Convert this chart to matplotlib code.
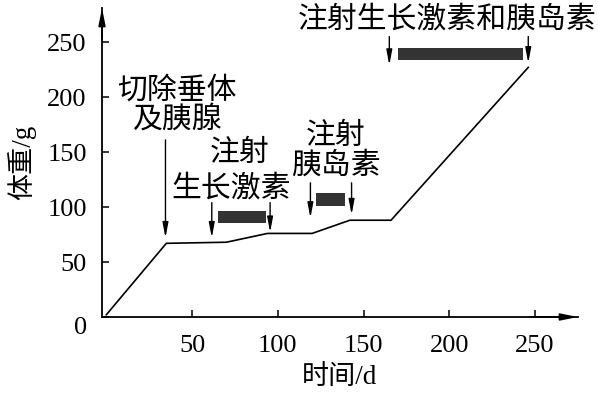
import matplotlib
matplotlib.use("Agg")
import matplotlib.pyplot as plt
from matplotlib.transforms import ScaledTranslation

# ---- data ----
time = [0, 35, 70, 94, 120, 142, 166, 246]
weight = [2, 67, 68, 76, 76, 88, 88, 227]

x_ticks = [50, 100, 150, 200, 250]
y_ticks = [0, 50, 100, 150, 200, 250]

# injection periods (black bars)
bar_start = [65, 122, 170]
bar_end = [93, 139, 243]
bar_y = [91, 107, 239.5]
bar_h = [11.5, 12, 11]

# arrows: x, y_from, y_to
arrow_x = [34.5, 61.5, 95.5, 119, 143, 165, 246]
arrow_y0 = [161, 104, 104, 122, 122, 255, 255]
arrow_y1 = [72, 72, 77, 90, 93, 229, 231]

# text lines: label, x, y
labels = ["切除垂体", "及胰腺", "注射", "生长激素", "注射", "胰岛素", "注射生长激素和胰岛素"]
label_x = [41.4, 41.4, 77.6, 72.9, 133.5, 134, 199]
label_y = [206, 180, 150, 117, 165.5, 138, 271]

SERIF = ["Liberation Serif", "Noto Sans CJK SC"]
CJK = ["Noto Sans CJK SC", "DejaVu Sans"]

fig = plt.figure(figsize=(5.98, 3.93), dpi=100)
ax = fig.add_axes([102 / 598, (393 - 317) / 393, (578 - 102) / 598, (317 - 8) / 393])
ax.set_xlim(-2.5, 275)
ax.set_ylim(0, 281)

for s in ["top", "right"]:
    ax.spines[s].set_visible(False)
for s in ["left", "bottom"]:
    ax.spines[s].set_linewidth(1.3)

# axis arrowheads
ax.annotate("", xy=(1, 0), xytext=(0.9, 0), xycoords="axes fraction",
            arrowprops=dict(arrowstyle="-|>,head_width=0.2,head_length=1.0",
                            color="black", lw=1.3, shrinkA=0, shrinkB=0))
ax.annotate("", xy=(0, 1), xytext=(0, 0.9), xycoords="axes fraction",
            arrowprops=dict(arrowstyle="-|>,head_width=0.2,head_length=1.0",
                            color="black", lw=1.3, shrinkA=0, shrinkB=0))

ax.plot(time, weight, color="black", lw=1.2)

for s, e, y, h in zip(bar_start, bar_end, bar_y, bar_h):
    ax.barh(y, e - s, left=s, height=h, color="#333333")

for x, y0, y1 in zip(arrow_x, arrow_y0, arrow_y1):
    ax.annotate("", xy=(x, y1), xytext=(x, y0),
                arrowprops=dict(arrowstyle="-|>,head_width=0.17,head_length=0.9",
                                color="black", lw=1.0, shrinkA=0, shrinkB=0))

for t, x, y in zip(labels, label_x, label_y):
    ax.text(x, y, t, ha="center", va="center", fontsize=21.5, family=CJK)

ax.set_xticks(x_ticks)
ax.set_yticks(y_ticks)
ax.tick_params(direction="in", length=5, width=1.1, labelsize=19)
ax.tick_params(axis="x", pad=13)
ax.tick_params(axis="y", pad=11)
for lab in ax.get_xticklabels() + ax.get_yticklabels():
    lab.set_family(SERIF)
zero = ax.get_yticklabels()[0]
zero.set_transform(zero.get_transform() + ScaledTranslation(0, -8 / 100, fig.dpi_scale_trans))

ax.set_xlabel("时间/d", fontsize=19.5, family=SERIF, labelpad=6)
ax.set_ylabel("体重/g", fontsize=19.5, family=SERIF, labelpad=8)

fig.savefig("out.png", dpi=100)
